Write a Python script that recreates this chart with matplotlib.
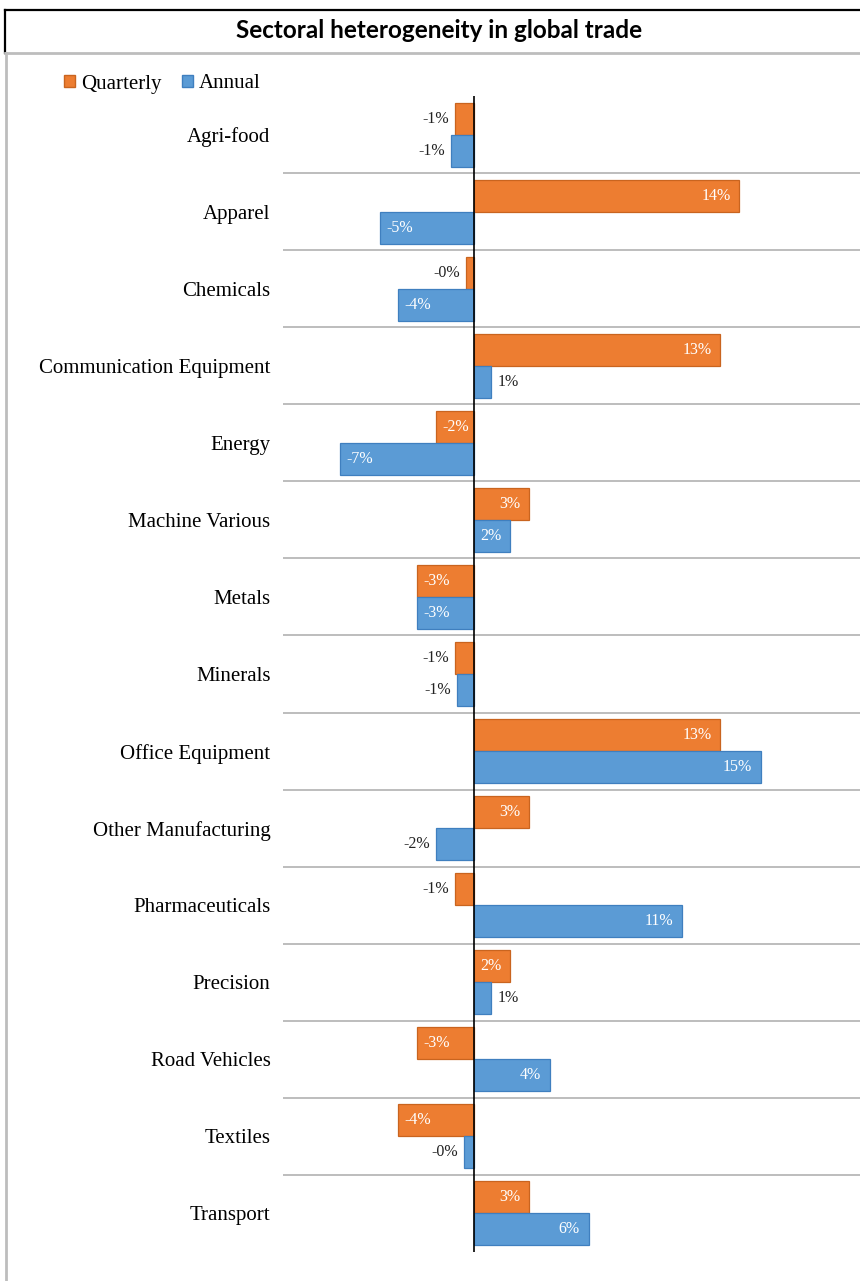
import matplotlib
matplotlib.use("Agg")
import matplotlib.pyplot as plt
from matplotlib.patches import Patch
from matplotlib.lines import Line2D

categories = ["Agri-food", "Apparel", "Chemicals", "Communication Equipment", "Energy",
              "Machine Various", "Metals", "Minerals", "Office Equipment",
              "Other Manufacturing", "Pharmaceuticals", "Precision", "Road Vehicles",
              "Textiles", "Transport"]
quarterly = [-1.0, 13.9, -0.4, 12.9, -2.0, 2.9, -3.0, -1.0, 12.9, 2.9, -1.0, 1.9, -3.0, -4.0, 2.9]
annual = [-1.2, -4.9, -4.0, 0.9, -7.0, 1.9, -3.0, -0.9, 15.0, -2.0, 10.9, 0.9, 4.0, -0.5, 6.0]
series_names = ["Quarterly", "Annual"]
title = "Sectoral heterogeneity in global trade"

# label placement (style): True = inside end (white), False = outside end (black)
q_inside = [False, True, False, True, True, True, True, False, True, True, False, True, True, True, True]
a_inside = [False, True, True, False, True, True, True, False, True, False, True, False, True, False, True]

ORANGE = "#ED7D31"
BLUE = "#5B9BD5"
ORANGE_E = "#C9641F"
BLUE_E = "#3F7FBF"
SERIF = ["Liberation Serif", "DejaVu Serif"]

W, H = 860, 1281
fig = plt.figure(figsize=(W / 100, H / 100), dpi=100)

def fx(px):
    return px / W

def fy(py):
    return 1 - py / H

ax_left, ax_right = 283, 860
ax_top, ax_bot = 96, 1252
ax = fig.add_axes([fx(ax_left), fy(ax_bot), (ax_right - ax_left) / W, (ax_bot - ax_top) / H])

zero_px = 474
px_per = 19.1
ax.set_xlim((ax_left - zero_px) / px_per, (ax_right - zero_px) / px_per)
n = len(categories)
ax.set_ylim(n - 0.5, -0.5)

bh = 0.415
ypos = list(range(n))
yq = [y - bh / 2 for y in ypos]
ya = [y + bh / 2 for y in ypos]
ax.barh(yq, quarterly, height=bh, color=ORANGE, edgecolor=ORANGE_E, linewidth=0.9, zorder=3)
ax.barh(ya, annual, height=bh, color=BLUE, edgecolor=BLUE_E, linewidth=0.9, zorder=3)

for k in range(n - 1):
    ax.axhline(k + 0.5, color="#BDBDBD", lw=1.4, zorder=1)
ax.axvline(0, color="black", lw=1.2, zorder=4)

for sp in ax.spines.values():
    sp.set_visible(False)
ax.set_xticks([])
ax.set_yticks(ypos)
ax.set_yticklabels(categories, family=SERIF, fontsize=15)
ax.tick_params(axis="y", length=0, pad=9)

pad_in = 9 / px_per
pad_out = 6 / px_per

def label(vals, ys, inside):
    for v, y, ins in zip(vals, ys, inside):
        txt = f"{v:.0f}%"
        if ins:
            if v >= 0:
                x, ha = v - pad_in, "right"
            else:
                x, ha = v + pad_in * 0.7, "left"
            col = "white"
        else:
            if v >= 0:
                x, ha = v + pad_out, "left"
            else:
                x, ha = v - pad_out, "right"
            col = "#222222"
        ax.text(x, y, txt, ha=ha, va="center", color=col, family=SERIF,
                fontsize=11.5, zorder=5)

label(quarterly, yq, q_inside)
label(annual, ya, a_inside)

# title box
fig.text(fx(439), fy(31), title, ha="center", va="center", fontsize=17.5,
         fontweight="bold", family=["Lato", "DejaVu Sans"])
fig.add_artist(Line2D([fx(5), fx(860)], [fy(10), fy(10)], color="black", lw=1.6))
fig.add_artist(Line2D([fx(5), fx(5)], [fy(10), fy(53)], color="black", lw=1.6))
fig.add_artist(Line2D([fx(5), fx(860)], [fy(53), fy(53)], color="#BDBDBD", lw=2))
fig.add_artist(Line2D([fx(6), fx(6)], [fy(53), fy(1281)], color="#BDBDBD", lw=2))

handles = [Patch(facecolor=ORANGE, edgecolor=ORANGE_E), Patch(facecolor=BLUE, edgecolor=BLUE_E)]
fig.legend(handles, series_names, loc="center left", bbox_to_anchor=(fx(64), fy(84)),
           ncol=2, frameon=False, handlelength=0.55, handleheight=0.55,
           handletextpad=0.25, columnspacing=1.0, borderaxespad=0, borderpad=0,
           prop={"family": SERIF, "size": 15})

fig.savefig("out.png", dpi=100)
